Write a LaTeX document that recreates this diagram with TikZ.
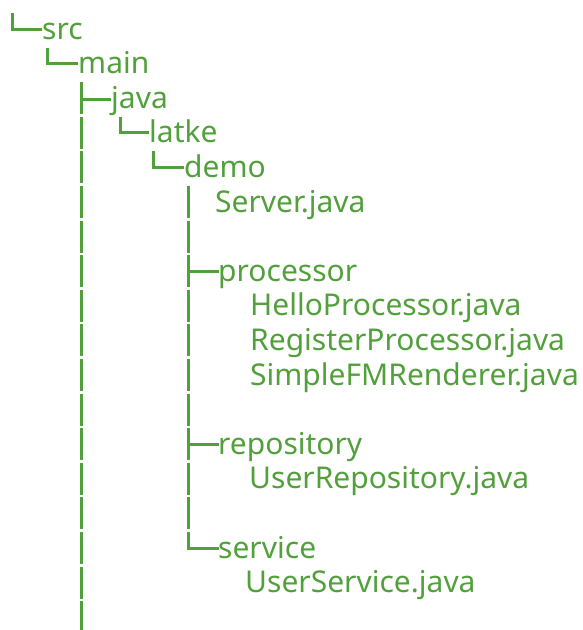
\documentclass[tikz,border=0pt]{standalone}
\usepackage{fontspec}
\setmainfont{Noto Sans}
\definecolor{treegreen}{RGB}{82,160,60}
\begin{document}
\begin{tikzpicture}[x=1pt,y=-1pt,
  lbl/.style={anchor=base west, inner sep=0pt, text=treegreen, font=\fontsize{30}{32}\selectfont},
  branch/.style={draw=treegreen, line width=3pt, line cap=butt, line join=miter}]
\useasboundingbox (0,0) rectangle (583,630);
% labels (baseline of row r = 39 + 34.6 r)
\node[lbl] (src) at (42,39) {src};
\node[lbl] (main) at (78,73.6) {main};
\node[lbl] (java) at (111,108.2) {java};
\node[lbl] (latke) at (149,142.8) {latke};
\node[lbl] (demo) at (184,177.4) {demo};
\node[lbl] (server) at (215,212) {Server.java};
\node[lbl] (processor) at (218,281.2) {processor};
\node[lbl] (hello) at (250,315.8) {HelloProcessor.java};
\node[lbl] (register) at (250,350.4) {RegisterProcessor.java};
\node[lbl] (simple) at (250,385) {SimpleFMRenderer.java};
\node[lbl] (repository) at (218,454.2) {repository};
\node[lbl] (userrepo) at (249,488.8) {UserRepository.java};
\node[lbl] (service) at (218,558) {service};
\node[lbl] (userservice) at (245,592.6) {UserService.java};
% elbows and tees
\draw[branch] (12,{39-26}) |- ([shift={(0pt,10pt)}]src.base west);
\draw[branch] (47,{73.6-26}) |- ([shift={(0pt,10pt)}]main.base west);
\draw[branch] (81,{108.2-26}) -- ++(0,32);
\draw[branch] (81,{108.2-9}) -- ([shift={(0pt,9pt)}]java.base west);
\draw[branch] (120,{142.8-26}) |- ([shift={(0pt,10pt)}]latke.base west);
\draw[branch] (153,{177.4-26}) |- ([shift={(0pt,10pt)}]demo.base west);
\draw[branch] (188,{281.2-10}) -- ([shift={(1pt,10pt)}]processor.base west);
\draw[branch] (188,{454.2-10}) -- ([shift={(1pt,10pt)}]repository.base west);
\draw[branch] (188,{558-26}) |- ([shift={(1pt,10pt)}]service.base west);
% vertical bars, one per text row
\foreach \r in {3,...,17}
  \draw[branch] (81,{39+34.6*\r-26}) -- ++(0,32);
\foreach \r in {5,...,14}
  \draw[branch] (188,{39+34.6*\r-26}) -- ++(0,32);
\end{tikzpicture}
\end{document}
